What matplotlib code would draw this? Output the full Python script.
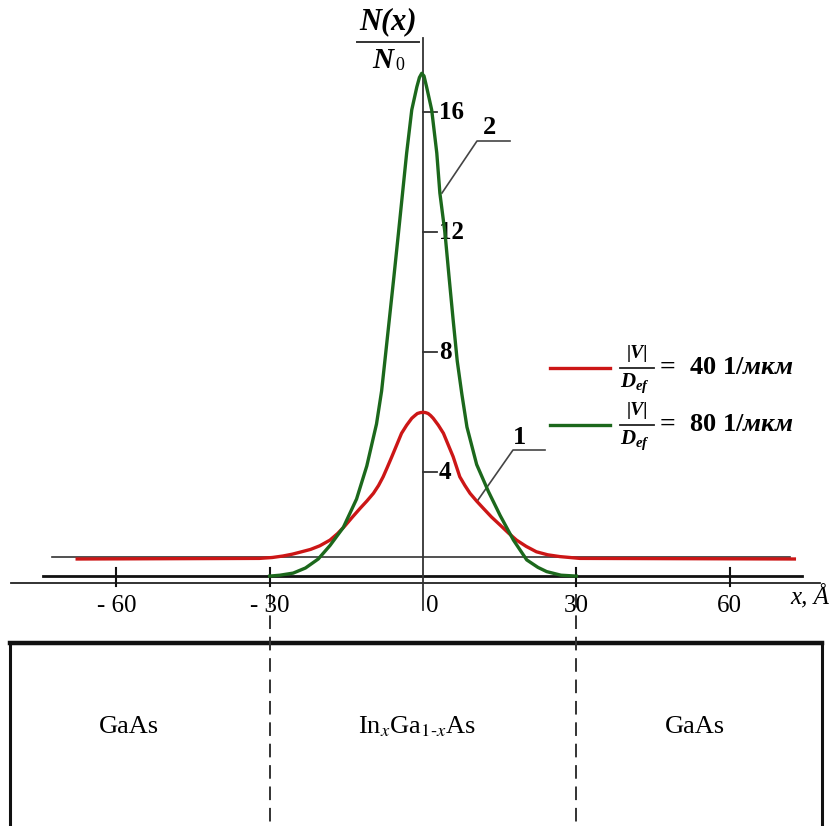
import numpy as np
import matplotlib
matplotlib.use('Agg')
import matplotlib.pyplot as plt
from matplotlib.patches import Rectangle

plt.rcParams['font.family'] = ['Liberation Serif', 'DejaVu Serif']
plt.rcParams['mathtext.fontset'] = 'custom'
plt.rcParams['mathtext.rm'] = 'Liberation Serif:bold'
plt.rcParams['mathtext.it'] = 'Liberation Serif:italic:bold'
plt.rcParams['mathtext.bf'] = 'Liberation Serif:bold'

RED = '#cc1616'
GREEN = '#1c681c'

# --- data (x in Angstrom, N(x)/N0) ---
# curve 1: |V|/D_ef = 40 1/mkm
x_red = [-68, -32, -29.5, -27.4, -25.6, -24, -22, -20.2, -18.2, -16.7, -15.3, -13.8, -12.3, -11,
         -9.7, -8.7, -7.8, -7.0, -6.1, -5.1, -4.2, -3.2, -2.2, -1.6, -1.1, -0.5, 0, 0.5, 1.0,
         1.5, 2.0, 3.0, 4.0, 4.9, 5.9, 6.6, 7.2, 8.2, 9.2, 10.5, 11.8, 13.4, 15.1, 16.7, 18.3,
         20.2, 22.2, 24.4, 26.8, 30.7, 73]
n_red = [1.10, 1.12, 1.15, 1.20, 1.26, 1.33, 1.42, 1.54, 1.73, 1.95, 2.20, 2.50, 2.79, 3.03,
         3.29, 3.55, 3.84, 4.15, 4.51, 4.92, 5.29, 5.56, 5.79, 5.88, 5.95, 5.98, 5.99, 5.98, 5.95,
         5.88, 5.79, 5.56, 5.29, 4.92, 4.51, 4.15, 3.84, 3.55, 3.29, 3.03, 2.79, 2.50, 2.23, 1.97,
         1.73, 1.52, 1.34, 1.24, 1.18, 1.12, 1.10]
# curve 2: |V|/D_ef = 80 1/mkm
x_green = [-30, -28, -25.4, -23, -20.5, -18.2, -15.6, -13, -11, -9.1, -8.1, -7.4, -6.6, -5.7,
           -4.8, -4.0, -3.2, -2.2, -1.2, -0.7, -0.25, 0.2, 0.7, 1.7, 2.7, 3.3, 4.3, 5.1, 5.9,
           6.7, 7.6, 8.6, 10.5, 12.8, 15.1, 17.7, 20.3, 22.5, 24.2, 27, 30]
n_green = [0.53, 0.56, 0.63, 0.80, 1.10, 1.55, 2.15, 3.10, 4.20, 5.60, 6.70, 7.80, 9.07, 10.5,
           11.97, 13.3, 14.63, 16.07, 16.84, 17.15, 17.29, 17.2, 16.84, 16.07, 14.63, 13.3, 11.97,
           10.5, 9.07, 7.70, 6.60, 5.50, 4.25, 3.35, 2.55, 1.73, 1.07, 0.82, 0.68, 0.56, 0.53]

x_ticks = [-60, -30, 30, 60]
x_ticklabels = ['- 60', '- 30', '30', '60']
y_ticks = [4, 8, 12, 16]
y_ticklabels = ['4', '8', '12', '16']
layer_bounds = [-30, 30]
layer_names = ['GaAs', r'In$_{x}$Ga$_{1\text{-}x}$As', 'GaAs']
layer_centers = [-57.6, -1.2, 53.3]
legend_values = [r'$\mathrm{40\ 1/}\mathit{мкм}$', r'$\mathrm{80\ 1/}\mathit{мкм}$']

# pixel -> data mapping of the drawing
X0, SX = 423.0, 5.11
Y0, SY = 592.0, 30.0
W, H = 833, 826


def dx(p):
    return (p - X0) / SX


def dy(p):
    return (Y0 - p) / SY


fig = plt.figure(figsize=(W / 100, H / 100), dpi=100, facecolor='white')
ax = fig.add_axes([0, 0, 1, 1])
ax.set_xlim(dx(0), dx(W))
ax.set_ylim(dy(H), dy(0))
ax.axis('off')

# axes lines
ax.plot([dx(11), dx(820)], [dy(583), dy(583)], color='#222222', lw=1.3)
ax.plot([dx(43), dx(802)], [dy(575.5), dy(575.5)], color='#111111', lw=2.0)
ax.plot([dx(52), dx(790)], [dy(556.5), dy(556.5)], color='#333333', lw=1.2)
ax.plot([0, 0], [dy(610), dy(38)], color='#333333', lw=1.3)

# curves
ax.plot(x_red, n_red, color=RED, lw=2.4, solid_joinstyle='round', solid_capstyle='butt', zorder=3)
ax.plot(x_green, n_green, color=GREEN, lw=2.4, solid_joinstyle='round', zorder=4)

# x ticks
for xt, lab in zip(x_ticks, x_ticklabels):
    ax.plot([xt, xt], [dy(568), dy(586)], color='#111111', lw=1.5)
    ax.text(xt, dy(606), lab, fontsize=18, ha='center', va='center')
ax.text(dx(432), dy(606), '0', fontsize=18, ha='center', va='center')
ax.text(dx(810), dy(596), 'x, Å', fontsize=18, style='italic', ha='center', va='center')

# y ticks
for yt, lab in zip(y_ticks, y_ticklabels):
    ax.plot([0, dx(437)], [yt, yt], color='#333333', lw=1.3)
    ax.text(dx(439), yt, lab, fontsize=18, fontweight='bold', ha='left', va='center')

# y label N(x)/N0
ax.text(dx(388), dy(22), 'N(x)', fontsize=22, fontweight='bold', style='italic',
        ha='center', va='center')
ax.plot([dx(357), dx(419)], [dy(42), dy(42)], color='#333333', lw=1.4)
ax.text(dx(383), dy(60), 'N', fontsize=21, fontweight='bold', style='italic',
        ha='center', va='center')
ax.text(dx(400), dy(66), '0', fontsize=13, ha='center', va='center')

# curve numbers with leaders
ax.plot([dx(442), dx(477), dx(510)], [dy(193), dy(141), dy(141)], color='#444444', lw=1.2)
ax.text(dx(489), dy(127), '2', fontsize=19, fontweight='bold', ha='center', va='center')
ax.plot([dx(478), dx(513), dx(545)], [dy(500), dy(450), dy(450)], color='#444444', lw=1.2)
ax.text(dx(519), dy(437), '1', fontsize=19, fontweight='bold', ha='center', va='center')

# legend
for yy, col, val in zip([368, 425], [RED, GREEN], legend_values):
    ax.plot([dx(550), dx(610)], [dy(yy), dy(yy)], color=col, lw=2.4)
    ax.text(dx(637), dy(yy - 15), '|V|', fontsize=14, fontweight='bold', style='italic',
            ha='center', va='center')
    ax.plot([dx(620), dx(654)], [dy(yy), dy(yy)], color='#222222', lw=1.3)
    ax.text(dx(635), dy(yy + 15), r'$D_{ef}$', fontsize=15, ha='center', va='center')
    ax.text(dx(667), dy(yy), '=', fontsize=20, fontweight='bold', ha='center', va='center')
    ax.text(dx(689), dy(yy), val, fontsize=19, ha='left', va='center')

# layer structure
ax.add_patch(Rectangle((dx(10), dy(H + 20)), dx(822) - dx(10), dy(643) - dy(H + 20),
                       fill=False, edgecolor='#111111', lw=2.2, zorder=2))
ax.plot([dx(10), dx(822)], [dy(643), dy(643)], color='#111111', lw=3.2)
for xb in layer_bounds:
    ax.plot([xb, xb], [dy(594), dy(H)], color='#333333', lw=1.4, ls=(0, (7, 4)))
for xc, name in zip(layer_centers, layer_names):
    ax.text(xc, dy(727), name, fontsize=19, ha='center', va='center', math_fontfamily='stix')

fig.savefig('out.png', dpi=100, facecolor='white')
